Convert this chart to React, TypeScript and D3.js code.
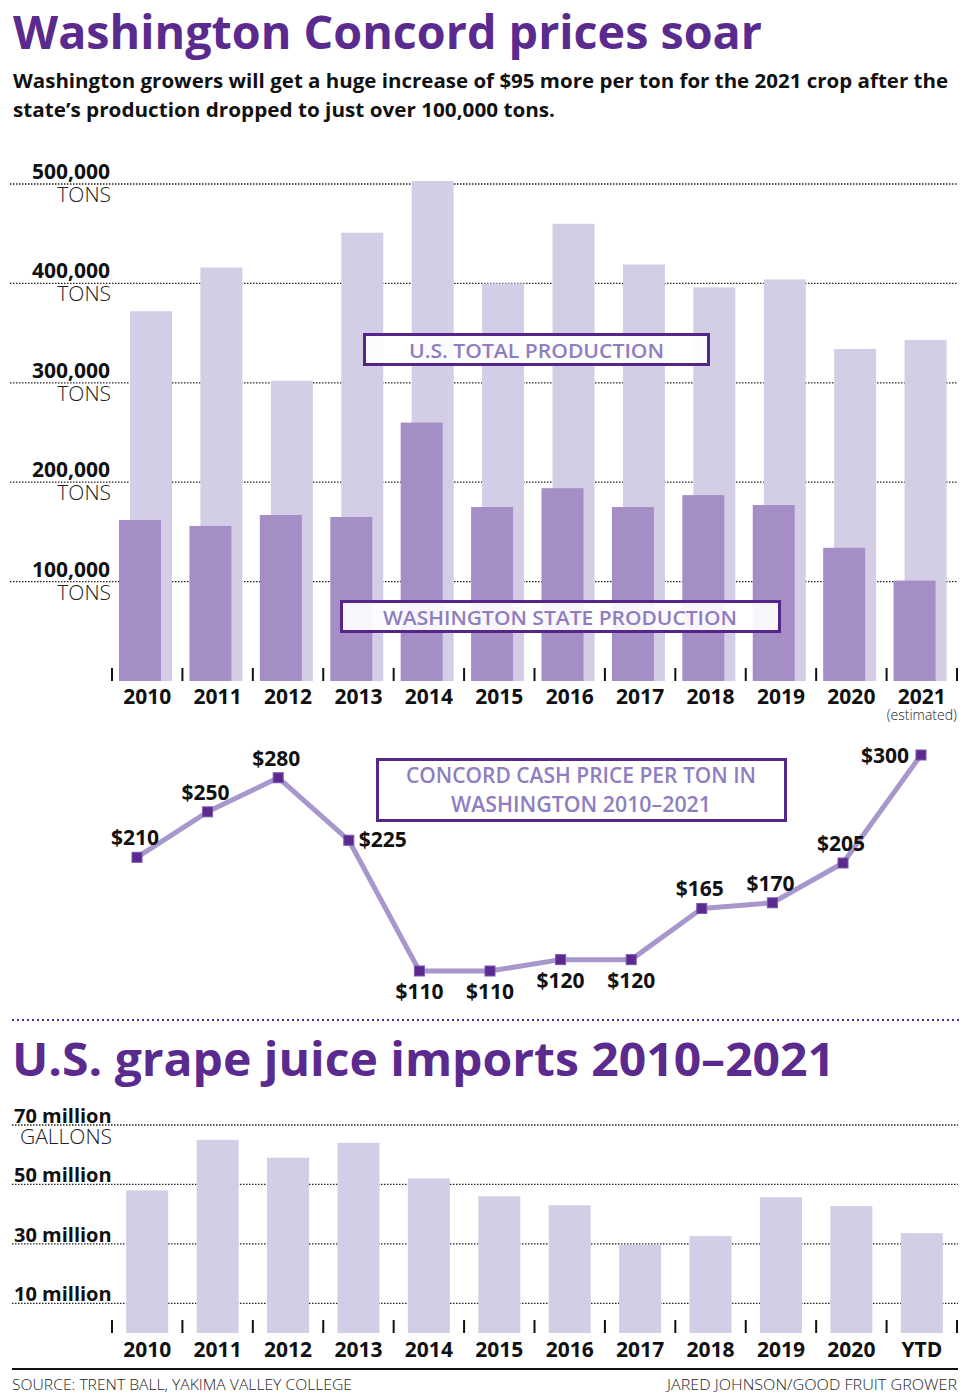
import React from "react";
import * as d3 from "d3";

const years = ["2010","2011","2012","2013","2014","2015","2016","2017","2018","2019","2020","2021"];
const usTotal = [372000, 416000, 302000, 451000, 503000, 400000, 460000, 419000, 396000, 404000, 334000, 343000];
const waProduction = [162000, 156000, 167000, 165000, 260000, 175000, 194000, 175000, 187000, 177000, 134000, 101000];
const tonTicks = [100000, 200000, 300000, 400000, 500000];

const prices = [210, 250, 280, 225, 110, 110, 120, 120, 165, 170, 205, 300];
const priceLabelPos = ["above","above","above","right","below","below","below","below","above","above","above","left"];

const importYears = ["2010","2011","2012","2013","2014","2015","2016","2017","2018","2019","2020","YTD"];
const importsMillions = [48, 65, 59, 64, 52, 46, 43, 29.6, 32.6, 45.7, 42.7, 33.6];
const gallonTicks = [10, 30, 50, 70];

const FONT = "'Open Sans', 'Noto Sans', sans-serif";
const PURPLE = "#5b2a8f";
const BOX = "#55268a";
const LABEL = "#8e7ebf";
const US_FILL = "#d4cde6";
const WA_FILL = "#a58ec6";
const LINE = "#a797cd";

export default function App() {
  const x = d3.scaleBand<string>().domain(years).range([112, 957]).paddingInner(0).paddingOuter(0);
  const bw = x.bandwidth();
  const yTons = d3.scaleLinear().domain([0, 500000]).range([681, 184]);
  const xPrice = d3.scaleLinear().domain([0, 10, 11]).range([137, 843, 921]);
  const yPrice = d3.scaleLinear().domain([110, 300]).range([971, 755]);
  const xi = d3.scaleBand<string>().domain(importYears).range([112, 957]);
  const yGal = d3.scaleLinear().domain([0, 70]).range([1333, 1125]);
  const fmt = d3.format(",");

  const pricePts: [number, number][] = prices.map((p, i) => [xPrice(i), yPrice(p)]);
  const line = d3.line();

  const boundaries = d3.range(years.length + 1).map((i) => 112 + i * bw);

  return (
    <svg width={970} height={1400} style={{ position: "absolute", left: 0, top: 0, background: "#fff" }} fontFamily={FONT}>
      <rect width={970} height={1400} fill="#fff" />
      {/* Title */}
      <text x={13} y={49} fontSize={47} fontWeight={700} fill={PURPLE} textLength={749} lengthAdjust="spacingAndGlyphs">
        Washington Concord prices soar
      </text>
      <text x={13} y={88} fontSize={20} fontWeight={700} fill="#111" textLength={935} lengthAdjust="spacingAndGlyphs">
        Washington growers will get a huge increase of $95 more per ton for the 2021 crop after the
      </text>
      <text x={13} y={117} fontSize={20} fontWeight={700} fill="#111" textLength={542} lengthAdjust="spacingAndGlyphs">
        state’s production dropped to just over 100,000 tons.
      </text>

      {/* Top chart gridlines */}
      {tonTicks.map((t) => (
        <g key={t}>
          <line x1={10} x2={958} y1={yTons(t)} y2={yTons(t)} stroke="#222" strokeWidth={1.3} strokeDasharray="1.5,1.5" />
          <text x={110} y={yTons(t) - 5} textAnchor="end" fontSize={21} fontWeight={700} fill="#111">{fmt(t)}</text>
          <text x={111} y={yTons(t) + 18} textAnchor="end" fontSize={21} fontWeight={300} fill="#222">TONS</text>
        </g>
      ))}

      {/* US bars */}
      {years.map((yr, i) => (
        <rect key={"us" + yr} x={x(yr)! + 18} width={42} y={yTons(usTotal[i])} height={yTons(0) - yTons(usTotal[i])} fill={US_FILL} />
      ))}
      {/* WA bars */}
      {years.map((yr, i) => (
        <rect key={"wa" + yr} x={x(yr)! + 7} width={42} y={yTons(waProduction[i])} height={yTons(0) - yTons(waProduction[i])} fill={WA_FILL} />
      ))}
      {/* ticks */}
      {boundaries.map((bx, i) => (
        <line key={"t" + i} x1={bx} x2={bx} y1={668} y2={681} stroke="#111" strokeWidth={2} />
      ))}
      {years.map((yr) => (
        <text key={"yl" + yr} x={x(yr)! + bw / 2} y={704} textAnchor="middle" fontSize={21} fontWeight={700} fill="#111">{yr}</text>
      ))}
      <text x={x("2021")! + bw / 2} y={720} textAnchor="middle" fontSize={14} fontWeight={300} fill="#222">(estimated)</text>

      {/* Series boxes */}
      <rect x={364.5} y={334.5} width={344} height={30} fill="#fff" fillOpacity={0.92} stroke={BOX} strokeWidth={3} />
      <text x={536.5} y={358} textAnchor="middle" fontSize={20} fontWeight={600} fill={LABEL} textLength={255} lengthAdjust="spacingAndGlyphs">U.S. TOTAL PRODUCTION</text>
      <rect x={341.5} y={601.5} width={438} height={30} fill="#fff" fillOpacity={0.92} stroke={BOX} strokeWidth={3} />
      <text x={560} y={625} textAnchor="middle" fontSize={20} fontWeight={600} fill={LABEL} textLength={354} lengthAdjust="spacingAndGlyphs">WASHINGTON STATE PRODUCTION</text>

      {/* Price chart */}
      <rect x={377.5} y={759.5} width={408} height={61} fill="#fff" stroke={BOX} strokeWidth={3} />
      <text x={581} y={783} textAnchor="middle" fontSize={21} fontWeight={600} fill={LABEL} textLength={350} lengthAdjust="spacingAndGlyphs">CONCORD CASH PRICE PER TON IN</text>
      <text x={581} y={812} textAnchor="middle" fontSize={21} fontWeight={600} fill={LABEL} textLength={260} lengthAdjust="spacingAndGlyphs">WASHINGTON 2010–2021</text>
      <path d={line(pricePts)!} fill="none" stroke={LINE} strokeWidth={5} strokeLinejoin="round" />
      {pricePts.map(([px, py], i) => (
        <rect key={"m" + i} x={px - 5} y={py - 5} width={10} height={10} fill={PURPLE} stroke="#7a55b0" strokeWidth={1} />
      ))}
      {pricePts.map(([px, py], i) => {
        const pos = priceLabelPos[i];
        let tx = px, ty = py, anchor: "start" | "middle" | "end" = "middle";
        if (pos === "above") { ty = py - 12; tx = px - 2; }
        if (pos === "below") { ty = py + 28; }
        if (pos === "right") { tx = px + 10; ty = py + 7; anchor = "start"; }
        if (pos === "left") { tx = px - 12; ty = py + 8; anchor = "end"; }
        return (
          <text key={"pl" + i} x={tx} y={ty} textAnchor={anchor} fontSize={21} fontWeight={700} fill="#111">${prices[i]}</text>
        );
      })}

      {/* Separator */}
      <line x1={12} x2={960} y1={1020} y2={1020} stroke={PURPLE} strokeWidth={2} strokeDasharray="2,3" />

      {/* Bottom title */}
      <text x={12} y={1076} fontSize={47} fontWeight={700} fill={PURPLE} textLength={823} lengthAdjust="spacingAndGlyphs">
        U.S. grape juice imports 2010–2021
      </text>

      {/* Bottom gridlines */}
      {gallonTicks.map((t) => (
        <g key={"g" + t}>
          <line x1={12} x2={958} y1={yGal(t)} y2={yGal(t)} stroke="#222" strokeWidth={1.3} strokeDasharray="1.5,1.5" />
          <text x={14} y={yGal(t) - 2} fontSize={20} fontWeight={700} fill="#111">{t} million</text>
        </g>
      ))}
      <text x={112} y={1144} textAnchor="end" fontSize={21} fontWeight={300} fill="#222">GALLONS</text>
      {importYears.map((yr, i) => (
        <rect key={"im" + yr} x={xi(yr)! + xi.bandwidth() / 2 - 21} width={42} y={yGal(importsMillions[i])} height={yGal(0) - yGal(importsMillions[i])} fill={US_FILL} />
      ))}
      {boundaries.map((bx, i) => (
        <line key={"bt" + i} x1={bx} x2={bx} y1={1320} y2={1333} stroke="#111" strokeWidth={2} />
      ))}
      {importYears.map((yr) => (
        <text key={"il" + yr} x={xi(yr)! + xi.bandwidth() / 2} y={1357} textAnchor="middle" fontSize={21} fontWeight={700} fill="#111">{yr}</text>
      ))}

      {/* Footer */}
      <line x1={12} x2={958} y1={1369} y2={1369} stroke="#111" strokeWidth={2} />
      <text x={12} y={1390} fontSize={15} fontWeight={300} fill="#222" textLength={340} lengthAdjust="spacingAndGlyphs">SOURCE: TRENT BALL, YAKIMA VALLEY COLLEGE</text>
      <text x={957} y={1390} textAnchor="end" fontSize={15} fontWeight={300} fill="#222" textLength={290} lengthAdjust="spacingAndGlyphs">JARED JOHNSON/GOOD FRUIT GROWER</text>
    </svg>
  );
}
